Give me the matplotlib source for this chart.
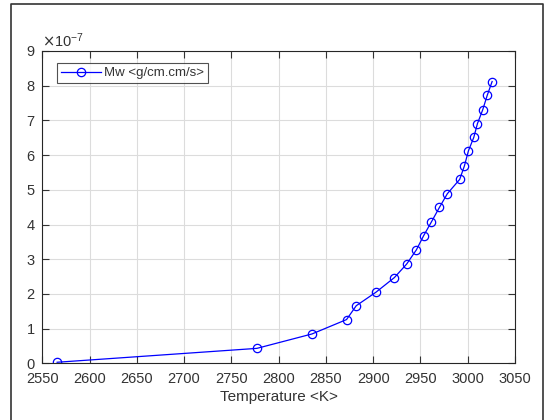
import matplotlib
matplotlib.use("Agg")
import matplotlib.pyplot as plt
from matplotlib.ticker import ScalarFormatter, MultipleLocator
from matplotlib.lines import Line2D

plt.rcParams['font.family'] = ['Liberation Sans', 'DejaVu Sans']

temperature = [2565.7, 2776.9, 2835.2, 2871.8, 2882.1, 2903.0, 2922.4, 2935.4,
               2945.7, 2953.4, 2961.5, 2970.0, 2978.5, 2991.5, 2996.5, 3000.7,
               3006.4, 3010.3, 3015.9, 3020.6, 3025.8]
mw_e7 = [0.03, 0.43, 0.845, 1.26, 1.66, 2.05, 2.47, 2.86,
         3.27, 3.68, 4.07, 4.49, 4.89, 5.30, 5.69, 6.12,
         6.51, 6.91, 7.31, 7.72, 8.12]
mw = [v * 1e-7 for v in mw_e7]
series_label = "Mw <g/cm.cm/s>"
xlabel = "Temperature <K>"

W, H = 544, 420
fig = plt.figure(figsize=(W / 100, H / 100), dpi=100)
ax = fig.add_axes([42.3 / W, (H - 363.3) / H, (515 - 42.3) / W, (363.3 - 51) / H])

ax.plot(temperature, mw, color=(0, 0, 1), linewidth=0.9, marker='o',
        markersize=6, markerfacecolor='none', markeredgecolor=(0, 0, 1),
        markeredgewidth=0.9, label=series_label)

ax.set_xlim(2550, 3050)
ax.set_ylim(0, 9e-7)
ax.xaxis.set_major_locator(MultipleLocator(50))
ax.yaxis.set_major_locator(MultipleLocator(1e-7))
fmt = ScalarFormatter(useMathText=True)
fmt.set_powerlimits((-3, 3))
ax.yaxis.set_major_formatter(fmt)

txt_color = '#333333'
ax.grid(True, color='#dcdcdc', linewidth=0.8)
ax.set_axisbelow(True)
ax.tick_params(direction='in', length=5, width=0.8, top=True, right=True,
               labelsize=10.5, colors=txt_color)
ax.tick_params(axis='x', pad=6)
ax.tick_params(axis='y', pad=5)
for s in ax.spines.values():
    s.set_color('#262626')
    s.set_linewidth(0.8)
ax.yaxis.get_offset_text().set_fontsize(10.5)
ax.yaxis.get_offset_text().set_color(txt_color)

ax.set_xlabel(xlabel, fontsize=11, color=txt_color, labelpad=3)

leg = ax.legend(loc='upper left', bbox_to_anchor=((57 - 42.3) / (515 - 42.3), 1 - (63 - 51) / (363.3 - 51)),
                fontsize=9.5, frameon=True, fancybox=False, borderpad=0.3,
                handlelength=3.0, handletextpad=0.3, borderaxespad=0)
leg.get_frame().set_edgecolor('#262626')
leg.get_frame().set_linewidth(0.8)
for t in leg.get_texts():
    t.set_color(txt_color)

# outer frame (left, top, right)
def px(x, y):
    return x / W, (H - y) / H
xs = [px(11, 420)[0], px(11, 4)[0], px(542.5, 4)[0], px(542.5, 420)[0]]
ys = [px(11, 420)[1], px(11, 4)[1], px(542.5, 4)[1], px(542.5, 420)[1]]
fig.add_artist(Line2D(xs, ys, color='#333333', linewidth=1.2, transform=fig.transFigure))

fig.savefig("out.png", dpi=100, facecolor='white')
